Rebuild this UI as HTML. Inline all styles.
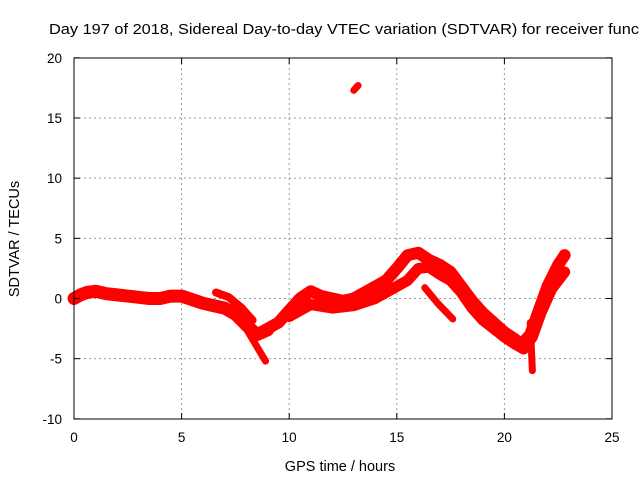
<!DOCTYPE html>
<html><head><meta charset="utf-8"><style>
body{margin:0;background:#fff;overflow:hidden;}
svg text{font-family:"Liberation Sans",sans-serif;fill:#000;}
</style></head><body>
<svg id="chart" width="640" height="480" xmlns="http://www.w3.org/2000/svg">
<rect width="640" height="480" fill="#fff"/>
<text x="49" y="34" font-size="14.5" textLength="590" lengthAdjust="spacingAndGlyphs">Day 197 of 2018, Sidereal Day-to-day VTEC variation (SDTVAR) for receiver func</text>
<g id="grid"></g>
<g id="series"></g>
<rect x="74" y="58" width="538" height="361" fill="none" stroke="#000" stroke-width="1"/>
<g id="ticks"></g>
<text x="340" y="471" font-size="14.5" text-anchor="middle">GPS time / hours</text>
<text transform="translate(19,239) rotate(-90)" font-size="14.5" text-anchor="middle">SDTVAR / TECUs</text>
</svg>
<script>
const xTicks=[0,5,10,15,20,25];
const yTicks=[-10,-5,0,5,10,15,20];
const mainX=[0,0.3,0.6,1,1.5,2,2.5,3,3.5,4,4.5,5,5.5,6,6.5,7,7.5,8,8.5,9];
const mainY=[0,0.3,0.5,0.6,0.4,0.3,0.2,0.1,0,0,0.2,0.2,-0.1,-0.4,-0.6,-0.8,-1.3,-2.2,-3,-2.6];
const branchX=[6.6,7.2,7.8,8.3];
const branchY=[0.5,0.1,-0.8,-1.8];
const tailX=[8.0,8.5,8.9];
const tailY=[-2.5,-4,-5.2];
const upperX=[8.5,9.5,10,10.5,11,11.5,12,12.5,13,13.5,14,14.5,15,15.5,16,16.5,17,17.5,18,18.5,19,19.5,20,20.5,20.8,21.2,21.5,22,22.5,22.8];
const upperY=[-3,-2,-1,0,0.6,0.2,0,-0.2,0,0.5,1,1.5,2.5,3.6,3.8,3.2,2.8,2.2,1,-0.2,-1.2,-2,-2.8,-3.4,-3.8,-3,-1.5,1,2.8,3.6];
const lowerX=[10,11,12,13,14,15,15.5,16,16.5,17,17.5,18,18.5,19,19.5,20,20.5,20.9,21.3,21.7,22.2,22.8];
const lowerY=[-1.5,-0.5,-0.8,-0.6,0,1,1.5,2.5,2.6,2,1.5,0.5,-0.8,-1.8,-2.5,-3.2,-3.8,-4.2,-3.2,-1.2,0.8,2.2];
const sideX=[16.3,16.9,17.6];
const sideY=[0.9,-0.4,-1.7];
const spikeX=[21.2,21.25,21.3];
const spikeY=[-2,-4,-6];
const outX=[13,13.2];
const outY=[17.3,17.7];
const ns="http://www.w3.org/2000/svg";
const sx=v=>74+v*538/25, sy=v=>298.5-v*361/30;
const grid=document.getElementById('grid'), ticks=document.getElementById('ticks'), ser=document.getElementById('series');
function mk(t,a,p){const e=document.createElementNS(ns,t);for(const k in a)e.setAttribute(k,a[k]);p.appendChild(e);return e;}
xTicks.forEach(v=>{const x=sx(v);
 if(v>0&&v<25){const g=mk('line',{x1:x,x2:x,y1:58,y2:419,stroke:'#999','stroke-dasharray':'2,3'},grid);
 
 }
 mk('line',{x1:x,x2:x,y1:419,y2:413,stroke:'#000'},ticks);mk('line',{x1:x,x2:x,y1:58,y2:64,stroke:'#000'},ticks);
 const t=mk('text',{x:x,y:442,'font-size':13.5,'text-anchor':'middle'},ticks);t.textContent=v;
 
 });
yTicks.forEach(v=>{const y=sy(v);
 if(v>-10&&v<20){const g=mk('line',{x1:74,x2:612,y1:y,y2:y,stroke:'#999','stroke-dasharray':'2,3'},grid);
 
 }
 mk('line',{x1:74,x2:80,y1:y,y2:y,stroke:'#000'},ticks);mk('line',{x1:606,x2:612,y1:y,y2:y,stroke:'#000'},ticks);
 const t=mk('text',{x:62,y:y+5,'font-size':13.5,'text-anchor':'end'},ticks);t.textContent=v;
 
 });
function band(xs,ys,w,name){
 const pts=xs.map((x,i)=>sx(x)+','+sy(ys[i])).join(' ');
 const p=mk('polyline',{points:pts,fill:'none',stroke:'#ff0000','stroke-width':w,'stroke-linejoin':'round','stroke-linecap':'round'},ser);
 
 
}
band(mainX,mainY,13,'series-main-band');
band(branchX,branchY,8,'series-branch');
band(tailX,tailY,7,'series-tail');
band(upperX,upperY,12,'series-upper-band');
band(lowerX,lowerY,11,'series-lower-band');
band(sideX,sideY,7,'series-side-branch');
band(spikeX,spikeY,7,'series-spike');
band(outX,outY,7,'series-outlier');
</script>
</body></html>
